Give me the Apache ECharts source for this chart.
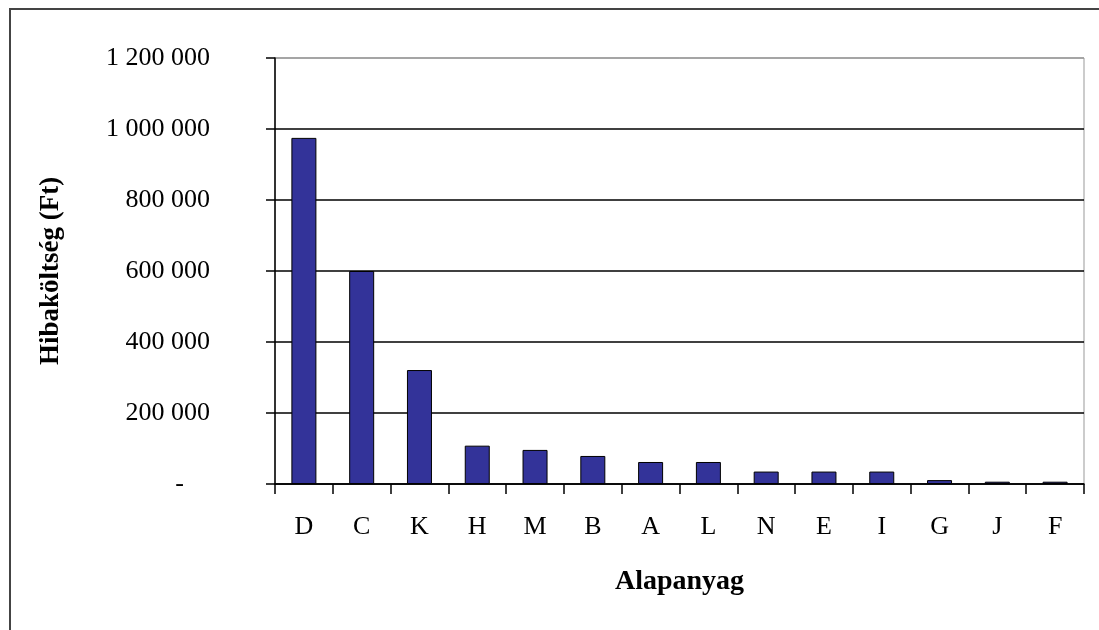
<!DOCTYPE html>
<html>
<head>
<meta charset="utf-8">
<script src="https://cdn.jsdelivr.net/npm/echarts@6/dist/echarts.min.js"></script>
<style>
  html, body { margin: 0; padding: 0; background: #fff; }
  #chart { width: 1099px; height: 630px; }
</style>
</head>
<body>
<div id="chart"></div>
<script>
// alapanyagok, csökkenő hibaköltség szerint
const categories = ['D', 'C', 'K', 'H', 'M', 'B', 'A', 'L', 'N', 'E', 'I', 'G', 'J', 'F'];
const costs = [975000, 600000, 321000, 108000, 96000, 79000, 62000, 62000, 35000, 35000, 35000, 11000, 6500, 6500];
const yTicks = [0, 200000, 400000, 600000, 800000, 1000000, 1200000];

const serif = '"Liberation Serif", "DejaVu Serif", serif';

// ezres tagolás szóközzel, a nulla helyett kötőjel
const fmt = val => {
  if (val === 0) return '-    ';
  return String(val).replace(/\B(?=(\d{3})+(?!\d))/g, ' ');
};

const myChart = echarts.init(document.getElementById('chart'));

const option = {
  backgroundColor: '#fff',
  animation: false,
  graphic: [
    {
      type: 'rect',
      shape: { x: 10, y: 9, width: 1100, height: 640 },
      style: { fill: 'none', stroke: '#444', lineWidth: 2 }
    }
  ],
  grid: {
    left: 275,
    right: 15,
    top: 58,
    bottom: 146,
    show: true,
    borderColor: '#999',
    borderWidth: 1
  },
  xAxis: {
    type: 'category',
    data: categories,
    name: 'Alapanyag',
    nameLocation: 'middle',
    nameGap: 84,
    nameTextStyle: { fontFamily: serif, fontSize: 28, fontWeight: 'bold', color: '#000' },
    axisLine: { lineStyle: { color: '#000', width: 1.5 } },
    axisTick: { show: true, length: 10, lineStyle: { color: '#000', width: 1.5 } },
    axisLabel: { fontFamily: serif, fontSize: 26, color: '#000', margin: 30 }
  },
  yAxis: {
    type: 'value',
    min: 0,
    max: 1200000,
    interval: 200000,
    name: 'Hibaköltség (Ft)',
    nameLocation: 'middle',
    nameGap: 210,
    nameTextStyle: { fontFamily: serif, fontSize: 27, fontWeight: 'bold', color: '#000' },
    axisLine: { show: true, lineStyle: { color: '#000', width: 1.5 } },
    axisTick: { show: true, length: 9, lineStyle: { color: '#000', width: 1.5 } },
    axisLabel: {
      fontFamily: serif,
      fontSize: 26,
      color: '#000',
      margin: 65,
      formatter: fmt
    },
    splitLine: {
      show: true,
      lineStyle: {
        color: ['#000', '#000', '#000', '#000', '#000', '#000', '#999'],
        width: 1.5
      }
    }
  },
  series: [
    {
      name: 'Hibaköltség',
      type: 'bar',
      data: costs,
      barWidth: 25,
      itemStyle: { color: '#333399', borderColor: '#000', borderWidth: 1 }
    }
  ]
};

myChart.setOption(option);
</script>
</body>
</html>
